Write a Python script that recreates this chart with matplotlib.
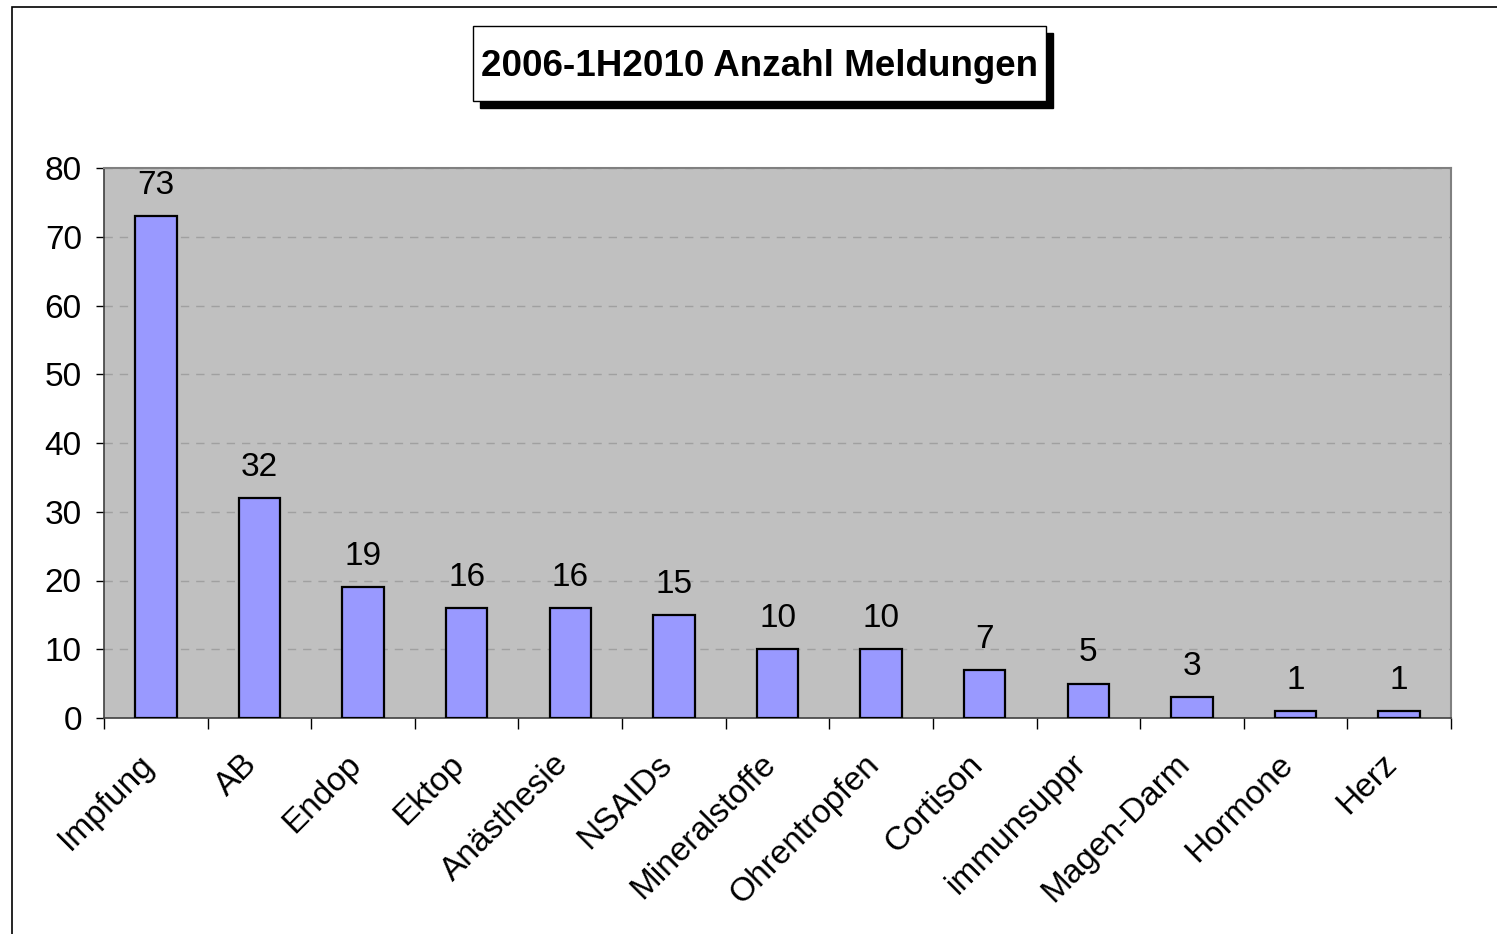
import matplotlib
matplotlib.use('Agg')
import matplotlib.pyplot as plt
from matplotlib.patches import Rectangle
from matplotlib.transforms import ScaledTranslation
import numpy as np

# Daten
categories = ['Impfung', 'AB', 'Endop', 'Ektop', 'Anästhesie', 'NSAIDs',
              'Mineralstoffe', 'Ohrentropfen', 'Cortison', 'immunsuppr',
              'Magen-Darm', 'Hormone', 'Herz']
counts = [73, 32, 19, 16, 16, 15, 10, 10, 7, 5, 3, 1, 1]
yticks = [0, 10, 20, 30, 40, 50, 60, 70, 80]
title = '2006-1H2010 Anzahl Meldungen'

plt.rcParams['font.family'] = ['Liberation Sans', 'DejaVu Sans']

fig = plt.figure(figsize=(14.97, 9.34), dpi=100)
ax = fig.add_axes([104 / 1497, 1 - 718 / 934, 1347 / 1497, 550 / 934])

x = np.arange(len(categories))
ax.bar(x, counts, width=0.4, color='#9999FF', edgecolor='black', linewidth=1.6, zorder=3)
for xi, v in zip(x, counts):
    ax.annotate(str(v), (xi, v), xytext=(0, 11), textcoords='offset points',
                ha='center', va='bottom', fontsize=24)

ax.set_facecolor('#C0C0C0')
ax.set_xlim(-0.5, len(categories) - 0.5)
ax.set_ylim(0, 80)
ax.set_yticks(yticks)
ax.tick_params(axis='y', labelsize=24, length=6, width=1, direction='out', pad=10)
ax.grid(axis='y', color='#A0A0A0', linestyle=(0, (6, 5)), linewidth=1, zorder=1)

# Kategorie-Grenzen als Ticks, Beschriftung in der Mitte
ax.set_xticks(np.arange(len(categories) + 1) - 0.5)
ax.set_xticklabels([])
ax.set_xticks(x, minor=True)
labels = ax.set_xticklabels(categories, minor=True, rotation=45, ha='right',
                            va='center', rotation_mode='anchor', fontsize=24)
ax.tick_params(axis='x', which='major', length=8, width=1)
ax.tick_params(axis='x', which='minor', length=0, pad=30)
shift = ScaledTranslation(-7 / 100, 0, fig.dpi_scale_trans)
for lab in labels:
    lab.set_transform(lab.get_transform() + shift)

for side in ('top', 'right'):
    ax.spines[side].set_color('#808080')
    ax.spines[side].set_linewidth(1.5)
for side in ('left', 'bottom'):
    ax.spines[side].set_color('#404040')
    ax.spines[side].set_linewidth(1.2)

# Rahmen um das Diagramm
fig.patches.append(Rectangle((12 / 1497, -0.01), 1.1, 1 - 7 / 934 + 0.01,
                             transform=fig.transFigure, fill=False,
                             edgecolor='black', linewidth=1.2))

# Titel mit Schattenkasten
fig.patches.append(Rectangle((480 / 1497, 1 - 108 / 934), 573 / 1497, 75 / 934,
                             transform=fig.transFigure, facecolor='black',
                             edgecolor='black'))
fig.patches.append(Rectangle((473 / 1497, 1 - 101 / 934), 573 / 1497, 75 / 934,
                             transform=fig.transFigure, facecolor='white',
                             edgecolor='black', linewidth=1))
fig.text((473 + 573 / 2) / 1497, 1 - 66 / 934, title, ha='center', va='center',
         fontsize=26.5, fontweight='bold')

fig.savefig('out.png', dpi=100)
